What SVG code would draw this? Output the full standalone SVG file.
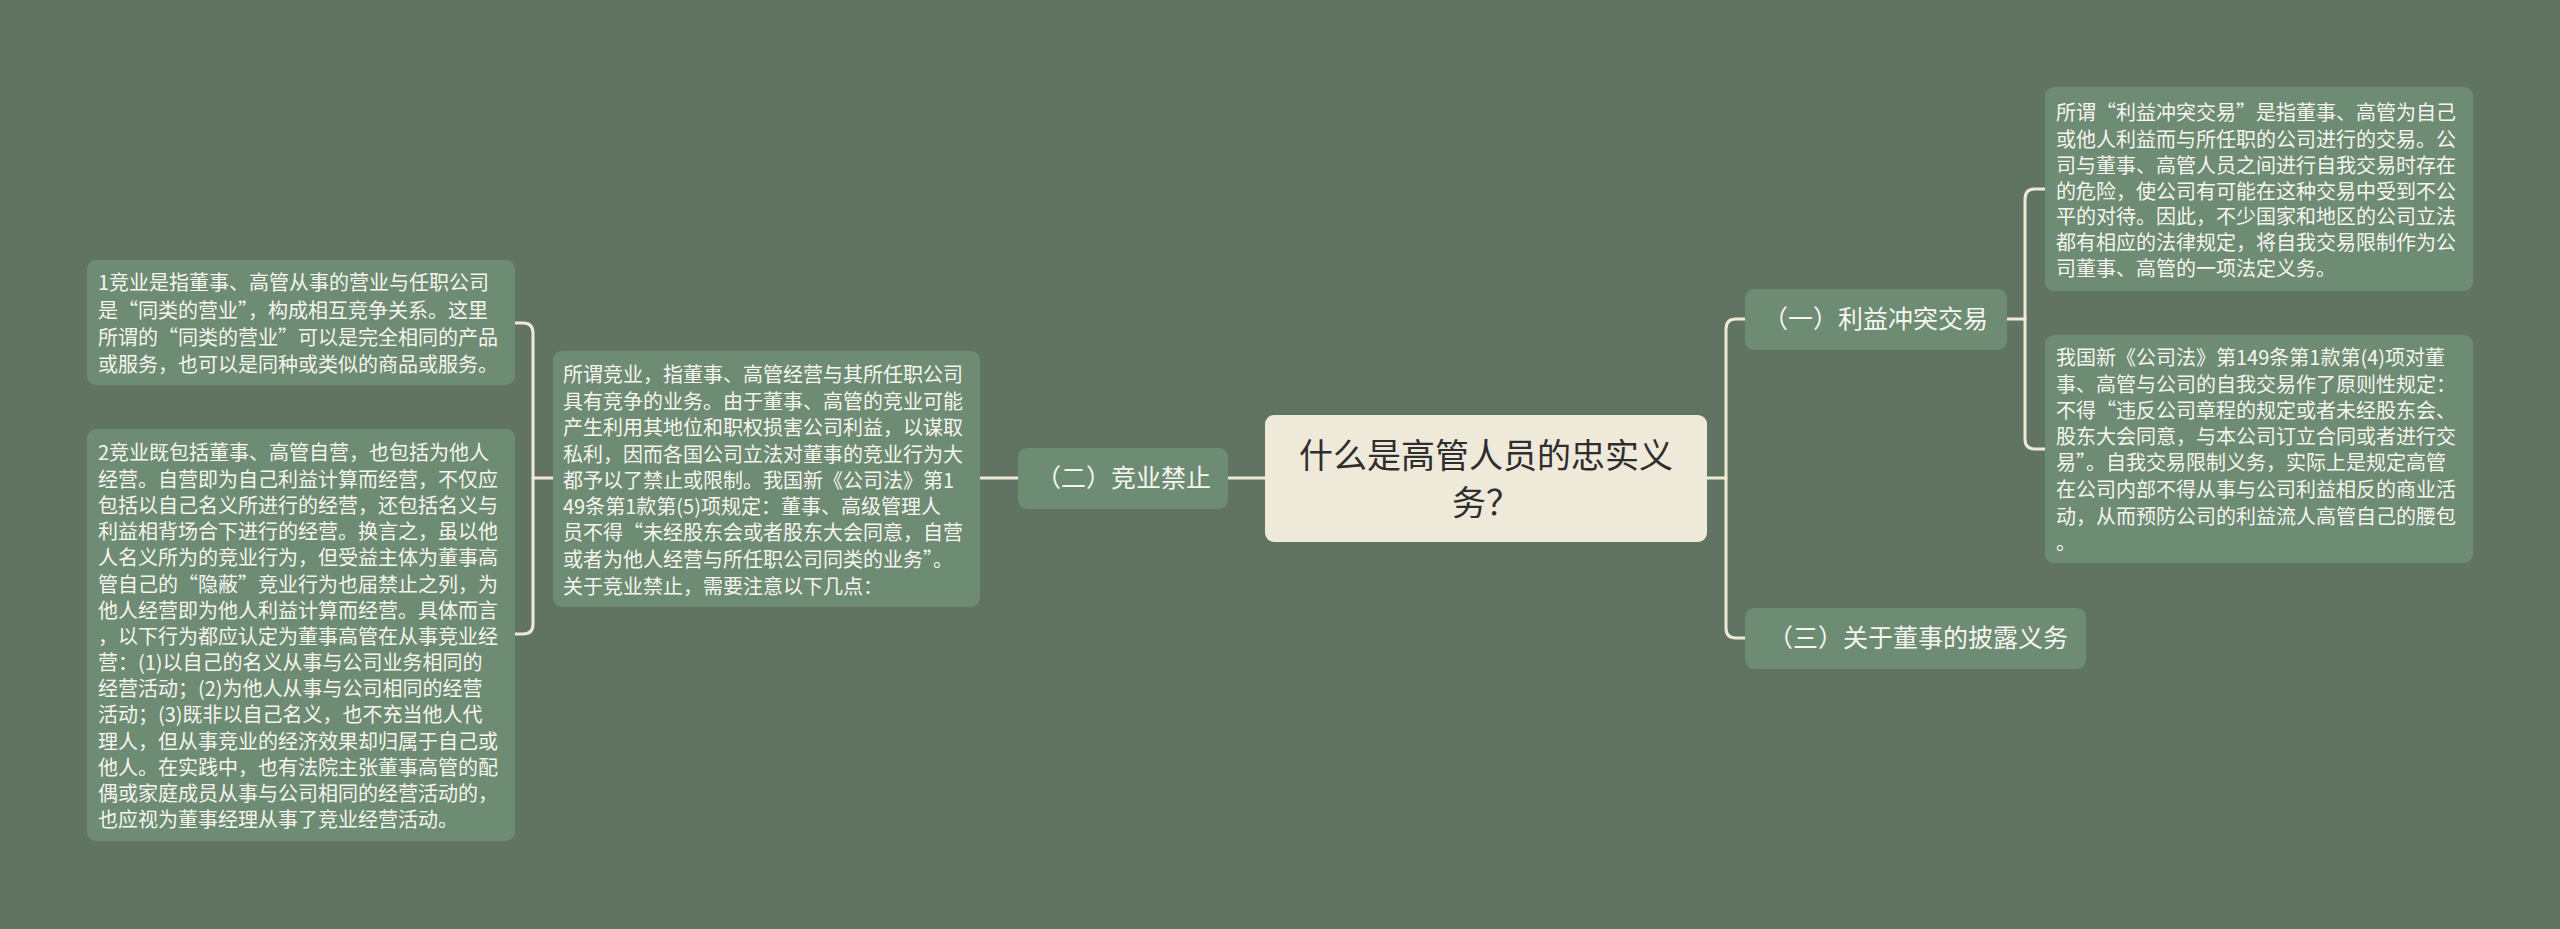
<svg xmlns="http://www.w3.org/2000/svg" width="2560" height="929" viewBox="0 0 2560 929">
<style>
.bg{fill:#617464}
.node{fill:#6e8b74}
.root{fill:#eee9d9}
.conn{fill:none;stroke:#efe9d6;stroke-width:3;stroke-linecap:round}
.t{font-family:"Microsoft YaHei","Noto Sans CJK SC","Noto Sans",sans-serif;fill:#f6f6ef}
.d{font-size:20px}
.m{font-size:25px}
.r{font-size:34px;fill:#2e2e2e;text-anchor:middle}
</style>
<rect class="bg" x="0" y="0" width="2560" height="929"/>
<g id="connectors">
<path class="conn" d="M1265,478 H1228"/>
<path class="conn" d="M1018,478 H980"/>
<path class="conn" d="M553,478 H533"/>
<path class="conn" d="M515,323 H523 Q533,323 533,333 V624 Q533,634 523,634 H515"/>
<path class="conn" d="M1707,478 H1726"/>
<path class="conn" d="M1745,319 H1736 Q1726,319 1726,329 V628 Q1726,638 1736,638 H1745"/>
<path class="conn" d="M2007,319 H2025"/>
<path class="conn" d="M2045,189 H2035 Q2025,189 2025,199 V439 Q2025,449 2035,449 H2045"/>
</g>
<g id="root">
<rect class="root" x="1265" y="415" width="442" height="127" rx="9"/>
<text class="t r" x="1486" y="468">什么是高管人员的忠实义</text>
<text class="t r" x="1486" y="515">务？</text>
</g>
<g id="n-jingye">
<rect class="node" x="1018" y="448" width="210" height="61" rx="9"/>
<text class="t m" x="1036" y="487">（二）竞业禁止</text>
</g>
<g id="n-jingye-detail">
<rect class="node" x="553" y="351" width="427" height="256" rx="9"/>
<text class="t d" x="563" y="382">所谓竞业，指董事、高管经营与其所任职公司</text>
<text class="t d" x="563" y="409">具有竞争的业务。由于董事、高管的竞业可能</text>
<text class="t d" x="563" y="435">产生利用其地位和职权损害公司利益，以谋取</text>
<text class="t d" x="563" y="462">私利，因而各国公司立法对董事的竞业行为大</text>
<text class="t d" x="563" y="488">都予以了禁止或限制。我国新《公司法》第1</text>
<text class="t d" x="563" y="514">49条第1款第(5)项规定：董事、高级管理人</text>
<text class="t d" x="563" y="540">员不得“未经股东会或者股东大会同意，自营</text>
<text class="t d" x="563" y="567">或者为他人经营与所任职公司同类的业务”。</text>
<text class="t d" x="563" y="594">关于竞业禁止，需要注意以下几点：</text>
</g>
<g id="n-jingye-1">
<rect class="node" x="87" y="260" width="428" height="125" rx="9"/>
<text class="t d" x="98" y="290">1竞业是指董事、高管从事的营业与任职公司</text>
<text class="t d" x="98" y="318">是“同类的营业”，构成相互竞争关系。这里</text>
<text class="t d" x="98" y="345">所谓的“同类的营业”可以是完全相同的产品</text>
<text class="t d" x="98" y="372">或服务，也可以是同种或类似的商品或服务。</text>
</g>
<g id="n-jingye-2">
<rect class="node" x="87" y="429" width="428" height="412" rx="9"/>
<text class="t d" x="98" y="460">2竞业既包括董事、高管自营，也包括为他人</text>
<text class="t d" x="98" y="487">经营。自营即为自己利益计算而经营，不仅应</text>
<text class="t d" x="98" y="513">包括以自己名义所进行的经营，还包括名义与</text>
<text class="t d" x="98" y="539">利益相背场合下进行的经营。换言之，虽以他</text>
<text class="t d" x="98" y="565">人名义所为的竞业行为，但受益主体为董事高</text>
<text class="t d" x="98" y="592">管自己的“隐蔽”竞业行为也届禁止之列，为</text>
<text class="t d" x="98" y="618">他人经营即为他人利益计算而经营。具体而言</text>
<text class="t d" x="98" y="644">，以下行为都应认定为董事高管在从事竞业经</text>
<text class="t d" x="98" y="670">营：(1)以自己的名义从事与公司业务相同的</text>
<text class="t d" x="98" y="696">经营活动；(2)为他人从事与公司相同的经营</text>
<text class="t d" x="98" y="722">活动；(3)既非以自己名义，也不充当他人代</text>
<text class="t d" x="98" y="749">理人，但从事竞业的经济效果却归属于自己或</text>
<text class="t d" x="98" y="775">他人。在实践中，也有法院主张董事高管的配</text>
<text class="t d" x="98" y="801">偶或家庭成员从事与公司相同的经营活动的，</text>
<text class="t d" x="98" y="827">也应视为董事经理从事了竞业经营活动。</text>
</g>
<g id="n-liyi">
<rect class="node" x="1745" y="289" width="262" height="61" rx="9"/>
<text class="t m" x="1763" y="328">（一）利益冲突交易</text>
</g>
<g id="n-liyi-1">
<rect class="node" x="2045" y="87" width="428" height="204" rx="9"/>
<text class="t d" x="2056" y="120">所谓“利益冲突交易”是指董事、高管为自己</text>
<text class="t d" x="2056" y="147">或他人利益而与所任职的公司进行的交易。公</text>
<text class="t d" x="2056" y="173">司与董事、高管人员之间进行自我交易时存在</text>
<text class="t d" x="2056" y="199">的危险，使公司有可能在这种交易中受到不公</text>
<text class="t d" x="2056" y="224">平的对待。因此，不少国家和地区的公司立法</text>
<text class="t d" x="2056" y="250">都有相应的法律规定，将自我交易限制作为公</text>
<text class="t d" x="2056" y="276">司董事、高管的一项法定义务。</text>
</g>
<g id="n-liyi-2">
<rect class="node" x="2045" y="335" width="428" height="228" rx="9"/>
<text class="t d" x="2056" y="365">我国新《公司法》第149条第1款第(4)项对董</text>
<text class="t d" x="2056" y="392">事、高管与公司的自我交易作了原则性规定：</text>
<text class="t d" x="2056" y="418">不得“违反公司章程的规定或者未经股东会、</text>
<text class="t d" x="2056" y="444">股东大会同意，与本公司订立合同或者进行交</text>
<text class="t d" x="2056" y="470">易”。自我交易限制义务，实际上是规定高管</text>
<text class="t d" x="2056" y="497">在公司内部不得从事与公司利益相反的商业活</text>
<text class="t d" x="2056" y="524">动，从而预防公司的利益流人高管自己的腰包</text>
<text class="t d" x="2056" y="550">。</text>
</g>
<g id="n-pilu">
<rect class="node" x="1745" y="608" width="341" height="61" rx="9"/>
<text class="t m" x="1768" y="647">（三）关于董事的披露义务</text>
</g>
</svg>
